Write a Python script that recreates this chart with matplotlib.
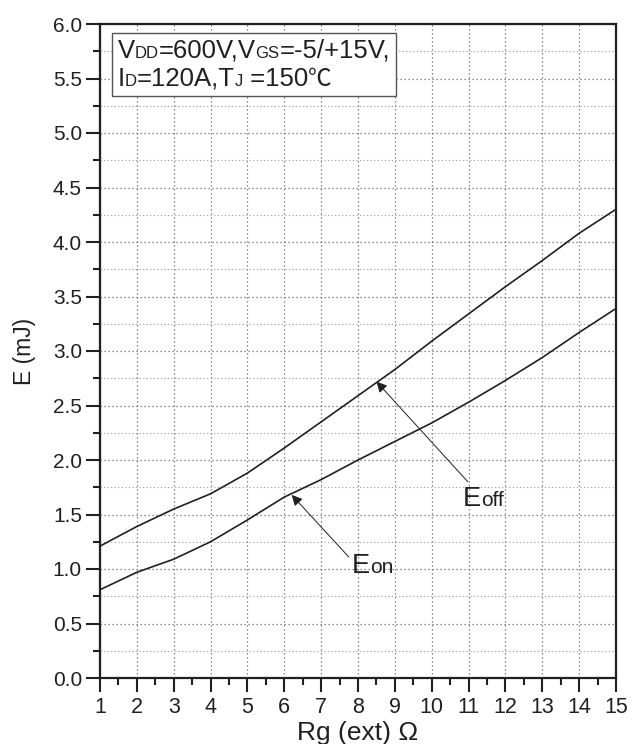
import matplotlib
matplotlib.use('Agg')
from matplotlib import pyplot
from matplotlib import ticker
from matplotlib.offsetbox import TextArea, HPacker, VPacker, AnchoredOffsetbox, AnnotationBbox

# switching energy vs external gate resistance
rg = [1, 2, 3, 4, 5, 6, 7, 8, 9, 10, 11, 12, 13, 14, 15]
e_off = [1.21, 1.39, 1.55, 1.69, 1.88, 2.11, 2.35, 2.59, 2.83, 3.09, 3.34, 3.59, 3.83, 4.08, 4.30]
e_on = [0.81, 0.97, 1.09, 1.25, 1.45, 1.66, 1.82, 2.00, 2.17, 2.34, 2.53, 2.73, 2.94, 3.17, 3.39]

x_ticks = list(range(1, 16))
y_ticks = [0.0, 0.5, 1.0, 1.5, 2.0, 2.5, 3.0, 3.5, 4.0, 4.5, 5.0, 5.5, 6.0]

INK = '#231f20'
SANS = ['Liberation Sans', 'DejaVu Sans']
CJK = ['Noto Sans CJK SC', 'DejaVu Sans']


def runs(parts):
    # parts: (text, size, family) pieces sitting on one baseline
    boxes = [TextArea(t, textprops=dict(fontsize=s, color=INK, family=f)) for t, s, f in parts]
    return HPacker(children=boxes, align='baseline', pad=0, sep=0)


def main():
    pyplot.rcParams['font.family'] = SANS
    fig = pyplot.figure(figsize=(6.32, 7.44), dpi=100)
    try:
        ax = fig.add_axes([100 / 632, 1 - 678 / 744, 516 / 632, 654 / 744])

        ax.plot(rg, e_off, color=INK, lw=1.2)
        ax.plot(rg, e_on, color=INK, lw=1.2)

        ax.set_xlim(1, 15)
        ax.set_ylim(0, 6)
        ax.set_xticks(x_ticks)
        ax.set_yticks(y_ticks)
        ax.xaxis.set_minor_locator(ticker.MultipleLocator(0.5))
        ax.yaxis.set_minor_locator(ticker.MultipleLocator(0.25))
        ax.yaxis.set_major_formatter(ticker.FormatStrFormatter('%.1f'))
        ax.tick_params(which='major', direction='out', length=10, width=1.5, color=INK, pad=4)
        ax.tick_params(which='minor', direction='out', length=5, width=1.5, color=INK)
        ax.tick_params(axis='x', which='major', labelsize=15.5, labelcolor=INK)
        ax.tick_params(axis='y', which='major', labelsize=15, labelcolor=INK, pad=3)
        for s in ax.spines.values():
            s.set_linewidth(1.6)
            s.set_color(INK)

        ax.grid(True, which='major', axis='both', color='#6a6a6a', lw=0.9, linestyle=(0, (1, 2.2)))
        ax.grid(True, which='minor', axis='y', color='#9a9a9a', lw=0.8, linestyle=(0, (1, 2.2)))
        ax.set_axisbelow(True)

        ax.set_xlabel('Rg (ext) \u03a9', fontsize=19, color=INK, labelpad=2)
        ax.set_ylabel('E (mJ)', fontsize=16.5, color=INK, labelpad=12)

        # test conditions box
        line1 = runs([('V', 18.5, SANS), ('DD', 12, SANS), ('=600V,V', 18.5, SANS),
                      ('GS', 12, SANS), ('=-5/+15V,', 18.5, SANS)])
        line2 = runs([('I', 18.5, SANS), ('D', 12, SANS), ('=120A,T', 18.5, SANS),
                      ('J', 12, SANS), (' =150', 18.5, SANS), ('\u2103', 17, CJK)])
        stack = VPacker(children=[line1, line2], align='left', pad=0, sep=3)
        cond = AnchoredOffsetbox(loc='upper left', child=stack, pad=0.22, borderpad=0,
                                 frameon=True, prop=dict(size=18),
                                 bbox_to_anchor=(12 / 516, 645 / 654),
                                 bbox_transform=ax.transAxes)
        cond.patch.set_edgecolor('#555555')
        cond.patch.set_linewidth(1.0)
        cond.patch.set_boxstyle('square,pad=0')
        ax.add_artist(cond)

        # curve labels with arrows
        arrow = dict(arrowstyle='-|>', color=INK, lw=0.7, mutation_scale=16,
                     shrinkA=0, shrinkB=0)
        ax.annotate('', xy=(8.5, 2.72), xytext=(10.98, 1.80), arrowprops=arrow)
        ax.annotate('', xy=(6.2, 1.68), xytext=(7.75, 1.11), arrowprops=arrow)
        lab_off = runs([('E', 19.5, SANS), ('off', 15, SANS)])
        lab_on = runs([('E', 19.5, SANS), ('on', 15, SANS)])
        ax.add_artist(AnnotationBbox(lab_off, (10.84, 1.64), box_alignment=(0, 0.5),
                                     frameon=False, pad=0))
        ax.add_artist(AnnotationBbox(lab_on, (7.84, 1.03), box_alignment=(0, 0.5),
                                     frameon=False, pad=0))

        fig.savefig('out.png', dpi=100)
    finally:
        pyplot.close(fig)


if __name__ == '__main__':
    main()
